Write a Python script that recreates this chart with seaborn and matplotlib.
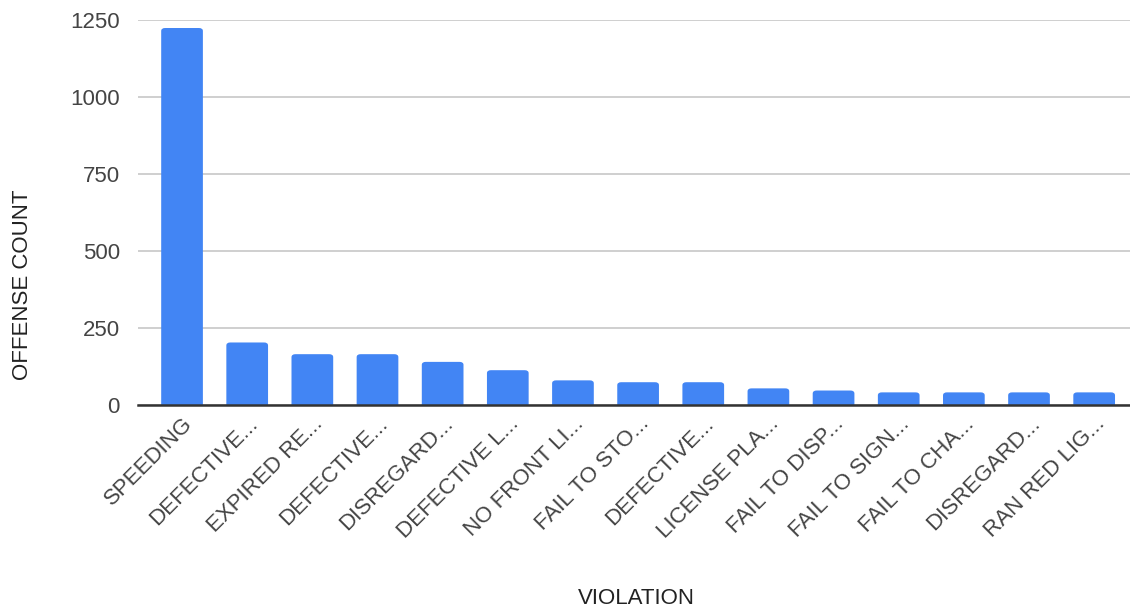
import matplotlib
matplotlib.use("Agg")
import matplotlib.pyplot as plt
from matplotlib.patches import FancyBboxPatch
import seaborn as sns
import pandas as pd

# Data
violations = ["SPEEDING", "DEFECTIVE...", "EXPIRED RE...", "DEFECTIVE...", "DISREGARD...",
              "DEFECTIVE L...", "NO FRONT LI...", "FAIL TO STO...", "DEFECTIVE...",
              "LICENSE PLA...", "FAIL TO DISP...", "FAIL TO SIGN...", "FAIL TO CHA...",
              "DISREGARD...", "RAN RED LIG..."]
counts = [1224, 203, 165, 165, 140, 113, 80, 74, 74, 54, 47, 41, 41, 41, 41]
y_ticks = [0, 250, 500, 750, 1000, 1250]

df = pd.DataFrame({"pos": range(len(counts)), "count": counts})

sns.set_style("white")
plt.rcParams["font.family"] = ["Liberation Sans", "DejaVu Sans"]

fig = plt.figure(figsize=(11.3, 6.11), dpi=100)
ax = fig.add_axes([138 / 1130, 1 - 405 / 611, 1 - 138 / 1130, (405 - 20) / 611])

sns.barplot(data=df, x="pos", y="count", color="#4285F4", saturation=1,
            width=0.64, ax=ax, native_scale=False)

# round the top corners of the bars (bottom pushed below 0 and clipped)
bars = list(ax.patches)
for b in bars:
    x, w, h = b.get_x(), b.get_width(), b.get_height()
    b.remove()
    fb = FancyBboxPatch((x, -15), w, h + 15,
                        boxstyle="round,pad=0,rounding_size=0.06",
                        mutation_aspect=160, facecolor="#4285F4",
                        edgecolor="none", zorder=2)
    ax.add_patch(fb)

ax.set_xlim(-0.676, 14.55)
ax.set_ylim(0, 1250)
ax.set_yticks(y_ticks)
ax.set_yticklabels([str(t) for t in y_ticks])
ax.yaxis.grid(True, color="#cccccc", linewidth=1.3, zorder=0)
ax.set_axisbelow(True)

for s in ["top", "right", "left"]:
    ax.spines[s].set_visible(False)
ax.spines["bottom"].set_color("#333333")
ax.spines["bottom"].set_linewidth(1.8)
ax.spines["bottom"].set_zorder(3)

ax.tick_params(axis="y", length=0, pad=13, labelsize=16, labelcolor="#444444")
ax.tick_params(axis="x", length=0, pad=6, labelsize=16, labelcolor="#444444")
ax.set_xticks(range(len(violations)))
ax.set_xticklabels(violations, rotation=45, ha="right", va="top",
                   rotation_mode="anchor")

ax.set_xlabel("")
ax.set_ylabel("")
fig.text(636 / 1130, 1 - 598 / 611, "VIOLATION", ha="center", va="center",
         fontsize=16, color="#222222")
fig.text(23 / 1130, 1 - 285 / 611, "OFFENSE COUNT", ha="center", va="center",
         rotation=90, fontsize=16, color="#222222")

fig.savefig("out.png", dpi=100)
